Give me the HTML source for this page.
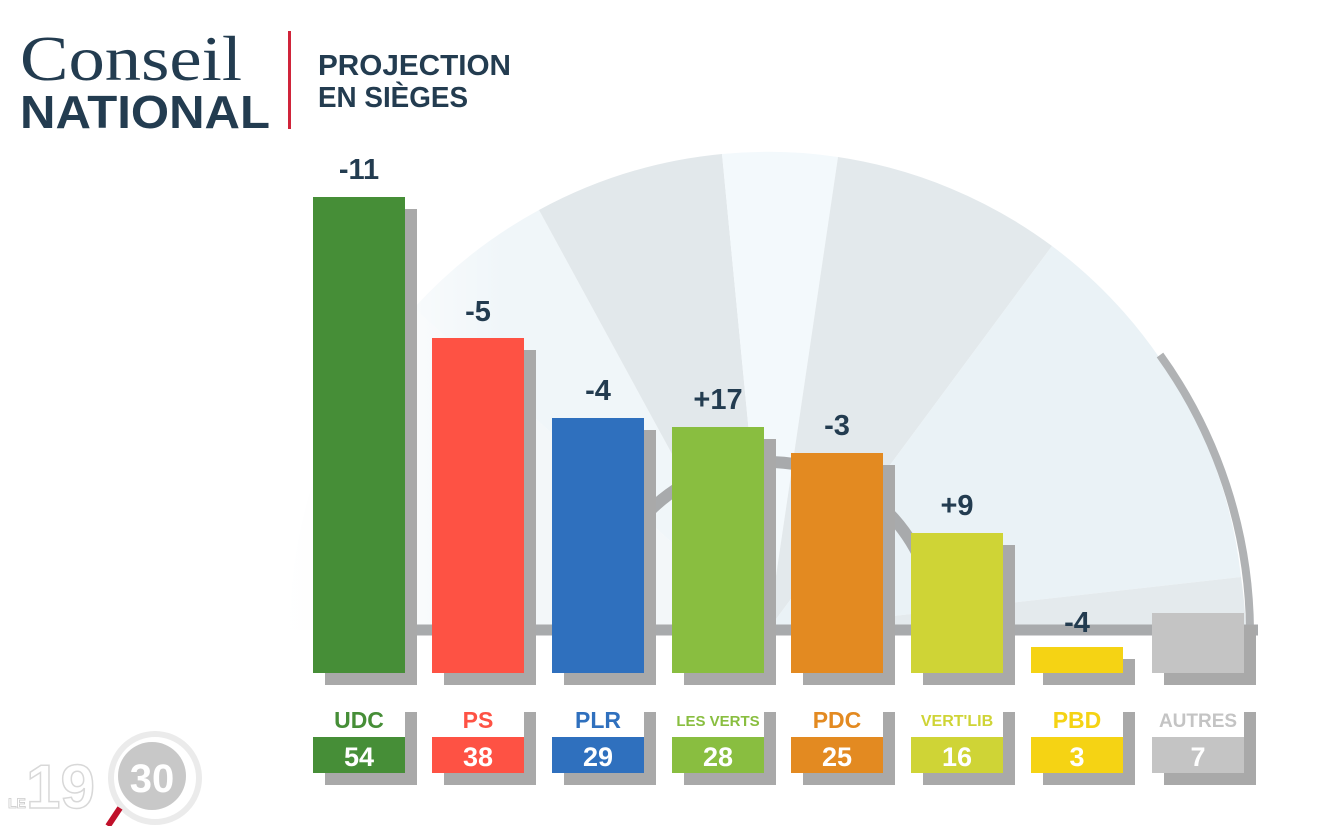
<!DOCTYPE html>
<html><head><meta charset="utf-8"><style>
html,body{margin:0;padding:0;background:#fff;}
body{width:1340px;height:826px;overflow:hidden;position:relative;font-family:"Liberation Sans",sans-serif;}
</style></head><body>
<svg width="1340" height="826" viewBox="0 0 1340 826" xmlns="http://www.w3.org/2000/svg" style="position:absolute;left:0;top:0">
<defs>
<linearGradient id="fade" x1="0" y1="0" x2="1" y2="0">
<stop offset="0" stop-color="#fff" stop-opacity="1"/>
<stop offset="0.25" stop-color="#fff" stop-opacity="0.6"/>
<stop offset="0.45" stop-color="#fff" stop-opacity="0"/>
</linearGradient>
</defs>
<g>
<path d="M768,630 L290,630 A478,478 0 0 1 414,308 Z" fill="#f3f7f9"/>
<path d="M768,630 L414,308 A478,478 0 0 1 539,210 Z" fill="#f0f6f9"/>
<path d="M768,630 L539,210 A478,478 0 0 1 722,154 Z" fill="#e2e8eb"/>
<path d="M768,630 L722,154 A478,478 0 0 1 838,157 Z" fill="#f3f9fc"/>
<path d="M768,630 L838,157 A478,478 0 0 1 1052,246 Z" fill="#e3e9ec"/>
<path d="M768,630 L1052,246 A478,478 0 0 1 1241,577 Z" fill="#eaf2f6"/>
<path d="M768,630 L1241,577 A478,478 0 0 1 1246,630 Z" fill="#e4eaed"/>
<rect x="280" y="140" width="500" height="500" fill="url(#fade)"/>
</g>
<path d="M1160,355 A478,478 0 0 1 1250,630" fill="none" stroke="#b0b2b4" stroke-width="8"/>
<path d="M600,630 A168,168 0 0 1 936,630" fill="none" stroke="#a8aaac" stroke-width="12"/>
<line x1="405" y1="630" x2="1258" y2="630" stroke="#a8aaac" stroke-width="11"/>

<text x="20" y="80" font-family="Liberation Serif,serif" font-size="64" fill="#233c50" textLength="222" lengthAdjust="spacingAndGlyphs">Conseil</text>
<text x="20" y="128" font-family="Liberation Sans,sans-serif" font-weight="bold" font-size="46" fill="#233c50" textLength="250" lengthAdjust="spacingAndGlyphs">NATIONAL</text>
<rect x="288" y="31" width="3" height="98" fill="#d0243a"/>
<text x="318" y="75" font-weight="bold" font-size="29" fill="#233c50" textLength="193" lengthAdjust="spacingAndGlyphs">PROJECTION</text>
<text x="318" y="107" font-weight="bold" font-size="29" fill="#233c50" textLength="150" lengthAdjust="spacingAndGlyphs">EN SIÈGES</text>

<g font-weight="bold" text-anchor="middle">
<g fill="#a9a9a9">
<rect x="325" y="209" width="92" height="476"/>
<rect x="444" y="350" width="92" height="335"/>
<rect x="564" y="430" width="92" height="255"/>
<rect x="684" y="439" width="92" height="246"/>
<rect x="803" y="465" width="92" height="220"/>
<rect x="923" y="545" width="92" height="140"/>
<rect x="1043" y="659" width="92" height="26"/>
<rect x="1164" y="625" width="92" height="60"/>
<rect x="325" y="712" width="92" height="73"/>
<rect x="444" y="712" width="92" height="73"/>
<rect x="564" y="712" width="92" height="73"/>
<rect x="684" y="712" width="92" height="73"/>
<rect x="803" y="712" width="92" height="73"/>
<rect x="923" y="712" width="92" height="73"/>
<rect x="1043" y="712" width="92" height="73"/>
<rect x="1164" y="712" width="92" height="73"/>
</g>
<rect x="313" y="197" width="92" height="476" fill="#468e37"/>
<rect x="432" y="338" width="92" height="335" fill="#fe5244"/>
<rect x="552" y="418" width="92" height="255" fill="#2f70be"/>
<rect x="672" y="427" width="92" height="246" fill="#89be40"/>
<rect x="791" y="453" width="92" height="220" fill="#e38a21"/>
<rect x="911" y="533" width="92" height="140" fill="#cfd436"/>
<rect x="1031" y="647" width="92" height="26" fill="#f5d314"/>
<rect x="1152" y="613" width="92" height="60" fill="#c4c4c4"/>

<g fill="#233c50" font-size="29">
<text x="359" y="179">-11</text>
<text x="478" y="321">-5</text>
<text x="598" y="400">-4</text>
<text x="718" y="409">+17</text>
<text x="837" y="435">-3</text>
<text x="957" y="515">+9</text>
<text x="1077" y="632">-4</text>
</g>

<g fill="#fff">
<rect x="313" y="705" width="92" height="32"/><rect x="432" y="705" width="92" height="32"/>
<rect x="552" y="705" width="92" height="32"/><rect x="672" y="705" width="92" height="32"/>
<rect x="791" y="705" width="92" height="32"/><rect x="911" y="705" width="92" height="32"/>
<rect x="1031" y="705" width="92" height="32"/><rect x="1152" y="705" width="92" height="32"/>
</g>
<rect x="313" y="737" width="92" height="36" fill="#468e37"/>
<rect x="432" y="737" width="92" height="36" fill="#fe5244"/>
<rect x="552" y="737" width="92" height="36" fill="#2f70be"/>
<rect x="672" y="737" width="92" height="36" fill="#89be40"/>
<rect x="791" y="737" width="92" height="36" fill="#e38a21"/>
<rect x="911" y="737" width="92" height="36" fill="#cfd436"/>
<rect x="1031" y="737" width="92" height="36" fill="#f5d314"/>
<rect x="1152" y="737" width="92" height="36" fill="#c4c4c4"/>

<g font-size="23">
<text x="359" y="728" fill="#468e37">UDC</text>
<text x="478" y="728" fill="#fe5244">PS</text>
<text x="598" y="728" fill="#2f70be">PLR</text>
<text x="718" y="726" fill="#89be40" font-size="15">LES VERTS</text>
<text x="837" y="728" fill="#e38a21">PDC</text>
<text x="957" y="726" fill="#cfd436" font-size="16">VERT'LIB</text>
<text x="1077" y="728" fill="#f5d314">PBD</text>
<text x="1198" y="727" fill="#c4c4c4" font-size="19">AUTRES</text>
</g>
<g fill="#fff" font-size="27">
<text x="359" y="766">54</text><text x="478" y="766">38</text>
<text x="598" y="766">29</text><text x="718" y="766">28</text>
<text x="837" y="766">25</text><text x="957" y="766">16</text>
<text x="1077" y="766">3</text><text x="1198" y="766">7</text>
</g>
</g>

<circle cx="155" cy="778" r="44" fill="none" stroke="#ebebeb" stroke-width="6"/>
<circle cx="152" cy="776" r="34" fill="#c8c8c8"/>
<text x="26" y="808" font-weight="bold" font-size="62" fill="#fff" stroke="#d8d8d8" stroke-width="1.5">19</text>
<text x="152" y="792" font-size="40" fill="#fff" text-anchor="middle" font-weight="bold">30</text>
<text x="8" y="808" font-size="14" fill="#fff" stroke="#ccc" stroke-width="0.8" font-weight="bold">LE</text>
<line x1="120" y1="808" x2="108" y2="826" stroke="#c0102a" stroke-width="6"/>
</svg>
</body></html>
